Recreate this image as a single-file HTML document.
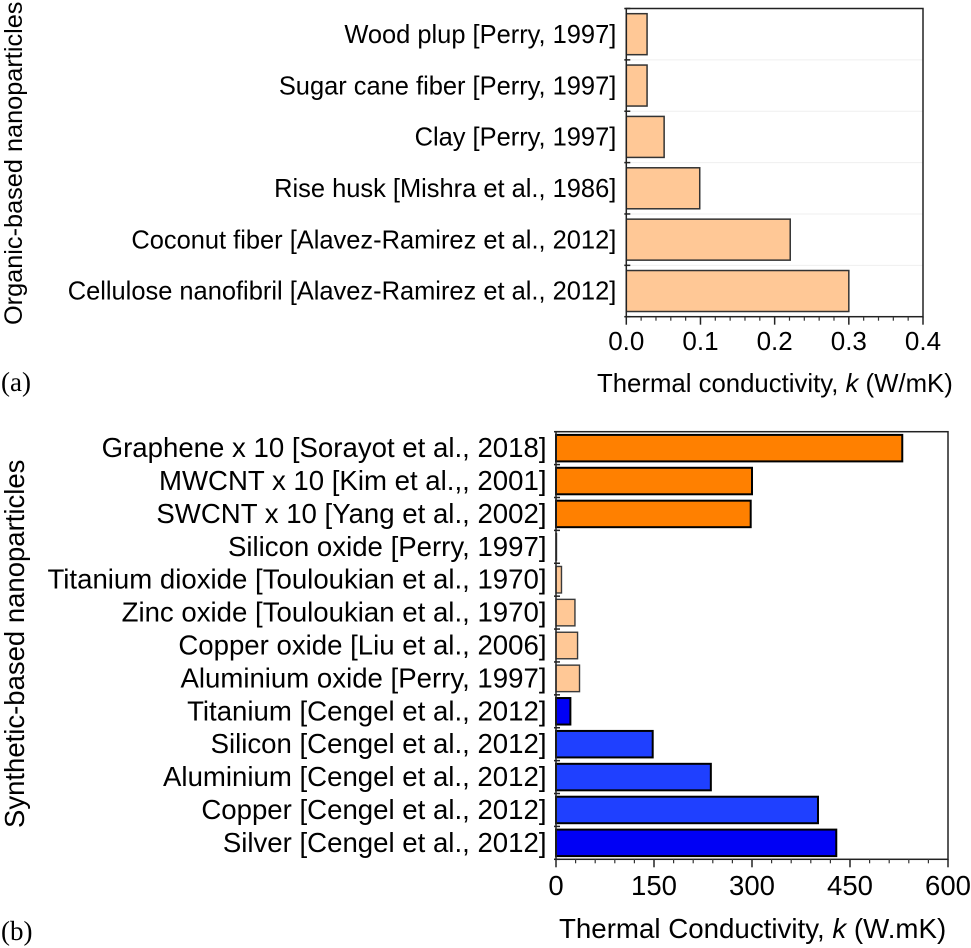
<!DOCTYPE html>
<html lang="en">
<head>
<meta charset="utf-8">
<title>Thermal conductivity of nanoparticles</title>
<style>
html,body{margin:0;padding:0;background:#fff;}
svg{display:block;}
text{font-family:"Liberation Sans",sans-serif;fill:#000;}
</style>
</head>
<body>
<svg id="chart" xmlns="http://www.w3.org/2000/svg" width="971" height="948" viewBox="0 0 971 948"></svg>
<script>
const organicCategories = ["Wood plup [Perry, 1997]","Sugar cane fiber [Perry, 1997]","Clay [Perry, 1997]","Rise husk [Mishra et al., 1986]","Coconut fiber [Alavez-Ramirez et al., 2012]","Cellulose nanofibril [Alavez-Ramirez et al., 2012]"];
const organicValues = [0.028,0.028,0.051,0.099,0.221,0.3];
const organicTicks = ["0.0","0.1","0.2","0.3","0.4"];
const syntheticCategories = ["Graphene x 10 [Sorayot et al., 2018]","MWCNT x 10 [Kim et al.,, 2001]","SWCNT x 10 [Yang et al., 2002]","Silicon oxide [Perry, 1997]","Titanium dioxide [Touloukian et al., 1970]","Zinc oxide [Touloukian et al., 1970]","Copper oxide [Liu et al., 2006]","Aluminium oxide [Perry, 1997]","Titanium [Cengel et al., 2012]","Silicon [Cengel et al., 2012]","Aluminium [Cengel et al., 2012]","Copper [Cengel et al., 2012]","Silver [Cengel et al., 2012]"];
const syntheticValues = [530,300,298,0.5,8.4,29,33,36,22,148,237,401,429];
const syntheticGroups = ["carbon","carbon","carbon","oxide","oxide","oxide","oxide","oxide","metal","light","light","light","metal"];
const syntheticTicks = ["0","150","300","450","600"];

const svg = document.getElementById('chart');
const NS = 'http://www.w3.org/2000/svg';
function mk(tag, attrs, txt){
  const e = document.createElementNS(NS, tag);
  for(const k in attrs){ e.setAttribute(k, attrs[k]); }
  if(txt !== undefined){ e.textContent = txt; }
  svg.appendChild(e);
  return e;
}
const fills = {peach:'#FFC896',carbon:'#FF8000',oxide:'#FFC896',metal:'#0000F5',light:'#1F40FF'};

function drawPanel(p){
  const x = v => p.x0 + (v / p.xMax) * (p.x1 - p.x0);
  const band = (p.y1 - p.y0) / p.cats.length;
  const y = i => p.y0 + band * i;

  if(p.grid){
    for(let i=1;i<p.cats.length;i++){
      const g = mk('line',{x1:p.x0,x2:p.x1,y1:y(i),y2:y(i),stroke:'#efefef','stroke-width':1});
      
      
    }
  }

  p.values.forEach((v,i)=>{
    const group = p.groups ? p.groups[i] : 'peach';
    const isOxide = group === 'oxide';
    const b = mk('rect',{x:x(0),y:y(i)+(band-p.barH)/2,width:Math.max(x(v)-x(0),0.5),height:p.barH,
      fill:fills[group],stroke:isOxide?'#3a3a3a':p.barStroke,'stroke-width':isOxide?1.4:p.barSW});
    
    

    const t = mk('text',{x:p.x0-p.labelGap,y:y(i)+band/2+p.labelDy,'text-anchor':'end','font-size':p.fs},p.cats[i]);
    
    
  });

  const frame = mk('rect',{x:p.x0,y:p.y0,width:p.x1-p.x0,height:p.y1-p.y0,fill:'none',stroke:'#222','stroke-width':1.5});
  
  

  for(let i=0;i<=p.cats.length;i++){
    const tk = mk('line',{x1:p.x0-2,x2:p.x0+4,y1:y(i),y2:y(i),stroke:'#222','stroke-width':1.5});
    
    
  }

  const nMajor = p.ticks.length - 1;
  const step = p.xMax / nMajor;
  for(let i=0;i<=nMajor;i++){
    const v = step*i;
    const tk = mk('line',{x1:x(v),x2:x(v),y1:p.y1,y2:p.y1+8,stroke:'#222','stroke-width':1.5});
    
    

    const lab = mk('text',{x:x(v),y:p.tickY,'text-anchor':'middle','font-size':p.tickFs},p.ticks[i]);
    
    

    if(i<nMajor){
      for(let m=1;m<5;m++){
        const mt = mk('line',{x1:x(v+step*m/5),x2:x(v+step*m/5),y1:p.y1,y2:p.y1+4,stroke:'#333','stroke-width':1.2});
        
        
      }
    }
  }
}

drawPanel({cats:organicCategories,values:organicValues,ticks:organicTicks,xMax:0.4,
  x0:626.3,x1:923,y0:8.5,y1:316.7,barH:41,barStroke:'#333',barSW:1.5,grid:true,
  labelGap:10,labelDy:8.7,fs:25.45,tickFs:26,tickY:350});
drawPanel({cats:syntheticCategories,values:syntheticValues,groups:syntheticGroups,ticks:syntheticTicks,xMax:600,
  x0:556,x1:948,y0:431.7,y1:859.3,barH:26.5,barStroke:'#000',barSW:2,grid:false,
  labelGap:9.5,labelDy:9,fs:27.6,tickFs:27.5,tickY:895});

function xTitle(x,y,fs,a,b,name){
  const t = mk('text',{x:x,y:y,'font-size':fs});
  
  
  const s1 = document.createElementNS(NS,'tspan'); s1.textContent = a;
  const s2 = document.createElementNS(NS,'tspan'); s2.textContent = 'k'; s2.setAttribute('font-style','italic');
  const s3 = document.createElementNS(NS,'tspan'); s3.textContent = b;
  t.append(s1,s2,s3);
}
xTitle(597,392,25.75,'Thermal conductivity, ',' (W/mK)','x-axis-title-a');
xTitle(559,938,27.7,'Thermal Conductivity, ',' (W.mK)','x-axis-title-b');

const ya = mk('text',{transform:'translate(22,325) rotate(-90)','font-size':25.3},'Organic-based nanoparticles');


const yb = mk('text',{transform:'translate(24,828) rotate(-90)','font-size':27.5},'Synthetic-based nanoparticles');



const pa = mk('text',{x:1,y:391,'font-size':27,style:'font-family:"Liberation Serif",serif'},'(a)');


const pb = mk('text',{x:1,y:940,'font-size':27,style:'font-family:"Liberation Serif",serif'},'(b)');


</script>
</body>
</html>
